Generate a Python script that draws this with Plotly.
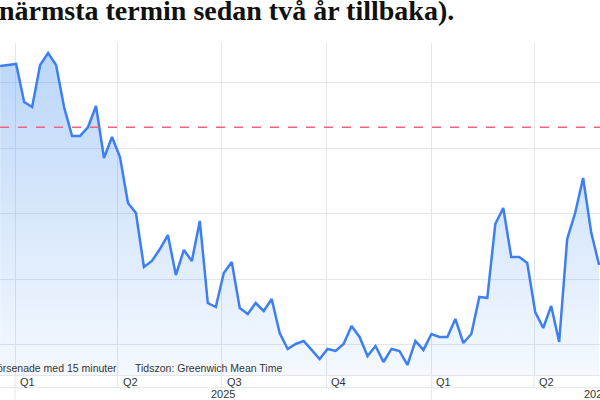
import pandas as pd
import plotly.graph_objects as go

# Weekly prices (nearest contract)
dates = pd.date_range('2024-12-19', periods=76, freq='7D')
prices = [
    102.55, 102.70, 102.86, 97.05, 96.29, 102.70, 104.54, 102.70, 96.29, 91.86,
    91.86, 93.23, 96.44, 88.50, 91.70, 88.65, 81.62, 80.09, 71.84, 72.76,
    74.59, 76.73, 70.62, 74.44, 72.76, 78.87, 66.34, 65.73, 70.93, 72.61,
    65.58, 64.66, 66.34, 65.12, 66.95, 61.76, 59.32, 60.08, 60.54, 59.17,
    57.79, 59.32, 59.01, 60.08, 62.83, 61.15, 58.25, 59.78, 57.33, 59.32,
    59.01, 56.87, 60.54, 59.17, 61.61, 61.15, 61.15, 63.90, 60.23, 61.61,
    67.26, 67.11, 78.41, 80.85, 73.36, 73.36, 72.45, 64.96, 62.52, 65.88,
    60.38, 76.12, 80.09, 85.44, 77.19, 72.15,
]
reference_level = 93.2  # level two years back

quarter_starts = ['2025-01-01', '2025-04-01', '2025-07-01', '2025-10-01', '2026-01-01', '2026-04-01']
quarter_labels = ['Q1', 'Q2', 'Q3', 'Q4', 'Q1', 'Q2']
year_starts = ['2025-01-01', '2026-01-01']
year_labels = ['2025', '2026']
year_label_pos = ['2025-07-02', '2026-05-13']

y_ticks = [60, 70, 80, 90, 100]
y_min, y_max = 55.34, 106.07

grid = '#e3e6ea'
label_font = dict(family='Liberation Sans', size=11, color='#333')
note_font = dict(family='Liberation Sans', size=10.5, color='#333')

fig = go.Figure()

fig.add_trace(go.Scatter(
    x=dates, y=prices,
    mode='lines',
    line=dict(color='#3d7ff3', width=2.5),
    fill='tozeroy',
    fillgradient=dict(
        type='vertical',
        start=y_max, stop=y_min,
        colorscale=[[0, 'rgba(80,150,240,0.40)'], [1, 'rgba(80,150,240,0.06)']],
    ),
    hoverinfo='x+y',
    showlegend=False,
))

# dashed reference line
fig.add_hline(y=reference_level, line=dict(color='#f0637f', width=1.5, dash='dash'))

# quarter / year label rows under the plot
for q, lab in zip(quarter_starts, quarter_labels):
    fig.add_shape(type='line', xref='x', x0=q, x1=q, yref='paper', ysizemode='pixel',
                  yanchor=0, y0=0, y1=-12.7, line=dict(color=grid, width=1))
    fig.add_annotation(x=q, xref='x', y=0, yref='paper', yanchor='middle', yshift=-6.5,
                       xanchor='left', xshift=3, text=lab, showarrow=False, font=label_font)
for ys in year_starts:
    fig.add_shape(type='line', xref='x', x0=ys, x1=ys, yref='paper', ysizemode='pixel',
                  yanchor=0, y0=-12.7, y1=-25, line=dict(color=grid, width=1))
for pos, lab in zip(year_label_pos, year_labels):
    fig.add_annotation(x=pos, xref='x', y=0, yref='paper', yanchor='middle', yshift=-19,
                       xanchor='center' if lab == '2025' else 'left', text=lab,
                       showarrow=False, font=label_font)
fig.add_shape(type='line', xref='paper', x0=0, x1=1, yref='paper', ysizemode='pixel',
              yanchor=0, y0=-12.7, y1=-12.7, line=dict(color=grid, width=1))

# notes inside plot
fig.add_annotation(x=0, xref='paper', xanchor='right', xshift=119, y=0, yref='paper',
                   yanchor='middle', yshift=7, text='försenade med 15 minuter',
                   showarrow=False, font=note_font)
fig.add_annotation(x=0, xref='paper', xanchor='left', xshift=133, y=0, yref='paper',
                   yanchor='middle', yshift=7, text='Tidszon: Greenwich Mean Time',
                   showarrow=False, font=note_font)

# title (cropped in the original)
fig.add_annotation(x=0, xref='paper', xanchor='left', xshift=-3, y=1, yref='paper',
                   yanchor='middle', yshift=33, text='<b>närmsta termin sedan två år tillbaka).</b>',
                   showarrow=False, font=dict(family='Liberation Serif', size=28, color='#111'))

fig.update_xaxes(
    range=['2024-12-18 20:00', '2026-05-28 19:00'],
    tickvals=quarter_starts, showticklabels=False,
    showgrid=True, gridcolor=grid, gridwidth=1,
    showline=True, linecolor=grid, zeroline=False,
)
fig.update_yaxes(
    range=[y_min, y_max], tickvals=y_ticks, showticklabels=False,
    showgrid=True, gridcolor=grid, gridwidth=1, zeroline=False,
)
fig.update_layout(
    width=600, height=400,
    margin=dict(l=0, r=0, t=43, b=25),
    plot_bgcolor='white', paper_bgcolor='white',
)

fig.write_html('out.html', config={'displayModeBar': False},
               post_script="document.body.style.margin='0';")
